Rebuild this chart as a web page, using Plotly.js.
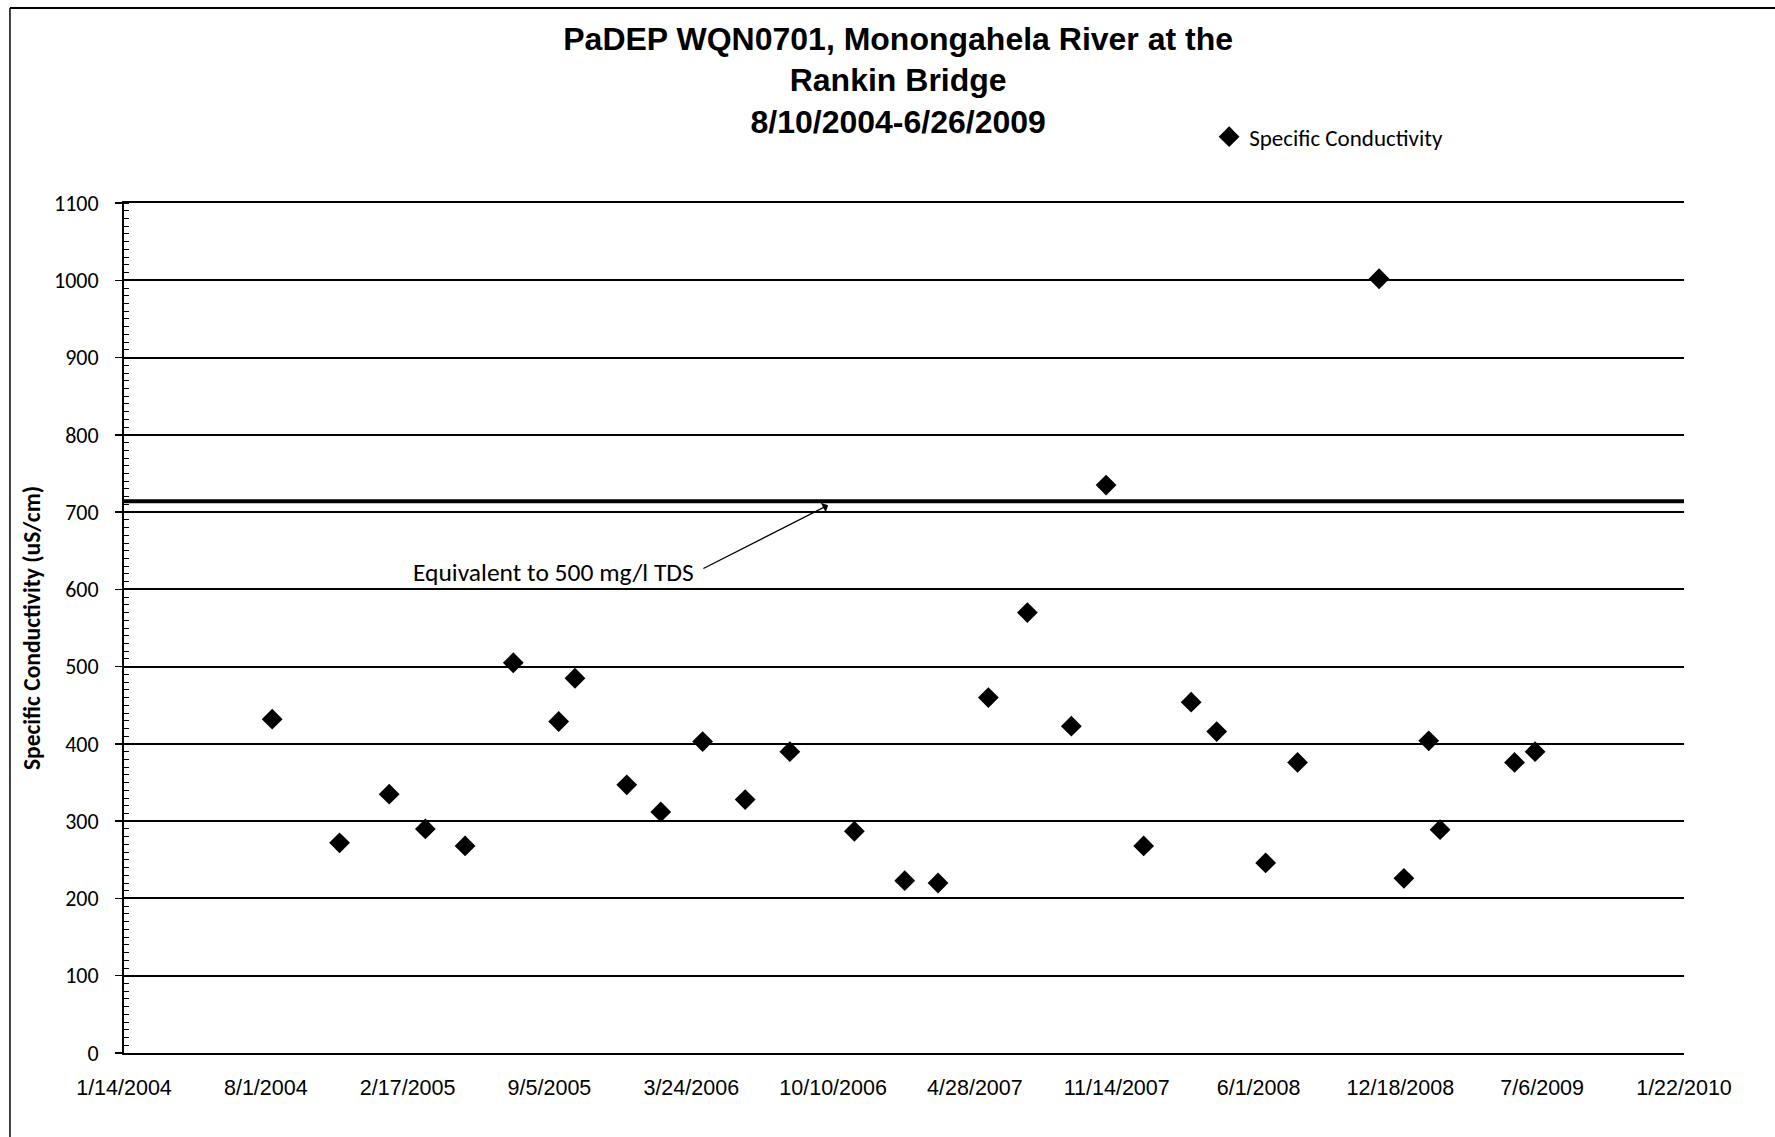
<!DOCTYPE html>
<html>
<head>
<meta charset="utf-8">
<script src="https://cdn.plot.ly/plotly-3.0.1.min.js"></script>
<style>
  html, body { margin: 0; padding: 0; background: #fff; }
  #chart { width: 1775px; height: 1137px; }
</style>
</head>
<body>
<div id="chart"></div>
<script>
// Sampling dates and specific conductivity values (uS/cm)
const sampleDates = [
  '2004-08-10', '2004-11-13', '2005-01-22', '2005-03-14', '2005-05-09',
  '2005-07-16', '2005-09-18', '2005-10-11', '2005-12-23', '2006-02-09',
  '2006-04-09', '2006-06-08', '2006-08-10', '2006-11-09', '2007-01-19',
  '2007-03-07', '2007-05-17', '2007-07-11', '2007-09-11', '2007-10-30',
  '2007-12-22', '2008-02-27', '2008-04-03', '2008-06-11', '2008-07-26',
  '2008-11-18', '2008-12-23', '2009-01-27', '2009-02-12', '2009-05-28',
  '2009-06-26'
];
const conductivity = [
  432, 272, 335, 290, 268,
  505, 429, 485, 347, 312,
  403, 328, 390, 287, 223,
  220, 460, 570, 423, 735,
  268, 454, 416, 246, 376,
  1002, 226, 404, 289, 376,
  390
];

// Threshold: conductivity equivalent to 500 mg/l TDS
const thresholdDates = ['2004-01-14', '2010-01-22'];
const thresholdValue = [714, 714];

// Axis settings
const xRange = ['2004-01-14', '2010-01-22'];
const xTick0 = '2004-01-14';
const xDtickDays = 200;
const yRange = [0, 1100];

const seriesName = 'Specific Conductivity';
const titleText = 'PaDEP WQN0701, Monongahela River at the<br>Rankin Bridge<br>8/10/2004-6/26/2009';
const yTitle = 'Specific Conductivity (uS/cm)';
const noteText = 'Equivalent to 500 mg/l TDS';
const noteTextAt = ['2006-03-31', 622];
const noteArrowFrom = ['2006-04-08', 626];
const noteArrowTo = ['2006-10-03', 709];

const calibriLike = 'Carlito, Lato, "Open Sans", sans-serif';
const arialLike = '"Liberation Sans", Arial, sans-serif';

const traces = [
  {
    x: thresholdDates,
    y: thresholdValue,
    type: 'scatter',
    mode: 'lines',
    line: { color: '#000', width: 4 },
    showlegend: false,
    hoverinfo: 'skip'
  },
  {
    x: sampleDates,
    y: conductivity,
    type: 'scatter',
    mode: 'markers',
    name: seriesName,
    marker: { symbol: 'diamond', size: 16, color: '#000' }
  }
];

const layout = {
  width: 1775,
  height: 1137,
  margin: { l: 124, r: 91, t: 203, b: 84 },
  paper_bgcolor: '#fff',
  plot_bgcolor: '#fff',
  title: {
    text: titleText,
    font: { family: arialLike, size: 32, color: '#000', weight: 'bold' },
    x: 0.506,
    xanchor: 'center',
    xref: 'container',
    y: 0.9564,
    yanchor: 'middle',
    yref: 'container'
  },
  showlegend: true,
  legend: {
    x: 0.6956,
    y: 1.078,
    xanchor: 'left',
    yanchor: 'middle',
    bgcolor: 'rgba(0,0,0,0)',
    font: { family: calibriLike, size: 23, color: '#000' },
    itemwidth: 30
  },
  xaxis: {
    type: 'date',
    range: xRange,
    tick0: xTick0,
    dtick: xDtickDays * 86400000,
    tickformat: '%-m/%-d/%Y',
    showgrid: false,
    zeroline: false,
    showline: true,
    mirror: true,
    linecolor: '#000',
    linewidth: 2,
    ticks: '',
    ticklabelstandoff: 14,
    tickfont: { family: arialLike, size: 21.5, color: '#000' }
  },
  yaxis: {
    range: yRange,
    dtick: 100,
    tick0: 0,
    showgrid: true,
    gridcolor: '#000',
    gridwidth: 2,
    zeroline: false,
    showline: true,
    linecolor: '#000',
    linewidth: 2,
    ticks: 'outside',
    ticklen: 7,
    tickwidth: 1.5,
    tickcolor: '#000',
    ticklabelstandoff: 12,
    minor: { dtick: 10, ticks: 'inside', ticklen: 5, tickwidth: 1, tickcolor: '#000', showgrid: false },
    tickfont: { family: calibriLike, size: 22, color: '#000' },
    automargin: true,
    title: {
      text: yTitle,
      font: { family: calibriLike, size: 23.5, color: '#000', weight: 'bold' },
      standoff: 7
    }
  },
  shapes: [
    { type: 'line', xref: 'paper', yref: 'paper', x0: -0.0731, x1: -0.0731, y0: -0.0988, y1: 1.2294,
      line: { color: '#000', width: 1.5 } },
    { type: 'line', xref: 'paper', yref: 'paper', x0: -0.0731, x1: 1.07, y0: 1.2294, y1: 1.2294,
      line: { color: '#000', width: 2 } }
  ],
  annotations: [
    {
      x: noteTextAt[0], y: noteTextAt[1], xref: 'x', yref: 'y',
      text: noteText, showarrow: false,
      xanchor: 'right', yanchor: 'middle',
      font: { family: calibriLike, size: 25.5, color: '#000' }
    },
    {
      x: noteArrowTo[0], y: noteArrowTo[1], xref: 'x', yref: 'y',
      ax: noteArrowFrom[0], ay: noteArrowFrom[1], axref: 'x', ayref: 'y',
      text: '', showarrow: true,
      arrowhead: 1, arrowsize: 1.4, arrowwidth: 1.3, arrowcolor: '#000', standoff: 0, startstandoff: 0
    }
  ]
};

Plotly.newPlot('chart', traces, layout, { displayModeBar: false, staticPlot: true });
</script>
</body>
</html>
